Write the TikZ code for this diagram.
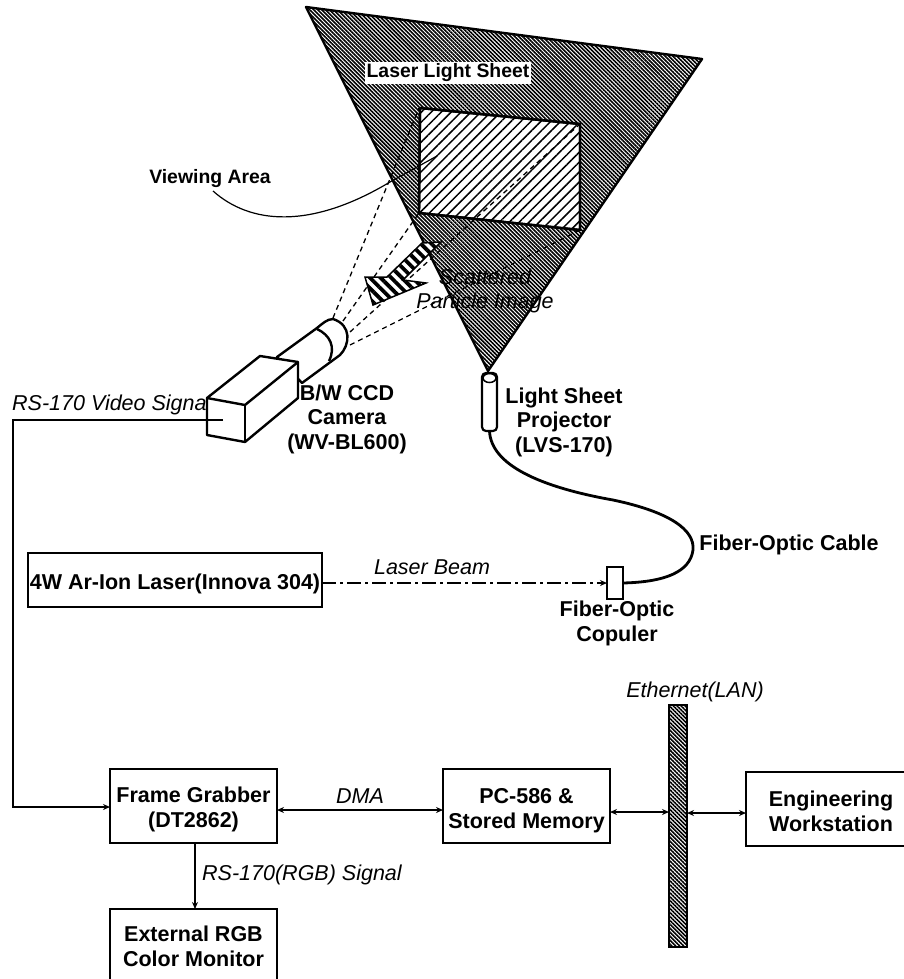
\documentclass[tikz,border=0pt]{standalone}
\usepackage{fontspec}
\setmainfont{Liberation Sans}
\usetikzlibrary{positioning, arrows.meta, patterns.meta}
\begin{document}
\begin{tikzpicture}[
  x=1pt, y=-1pt,
  node distance=66pt and 166pt,
  box/.style={rectangle, draw=black, line width=2.4pt, fill=white, minimum width=167pt,
    minimum height=74pt, align=center, font=\fontsize{21.5}{25}\selectfont\bfseries,
    inner sep=0pt, outer sep=0pt},
  lbl/.style={align=center, font=\fontsize{21.5}{24.5}\selectfont\bfseries, inner sep=0pt},
  smalllbl/.style={font=\fontsize{19.4}{24}\selectfont\bfseries, inner sep=0pt},
  sig/.style={font=\fontsize{21.5}{25}\selectfont\itshape, inner sep=0pt},
  arr/.style={-{Stealth[length=7pt,width=6pt]}, line width=1.2pt},
  dblarr/.style={{Stealth[length=7pt,width=6pt]}-{Stealth[length=7pt,width=6pt]}, line width=1.6pt},
  sight/.style={dash pattern=on 5pt off 4pt, line width=1.3pt},
  heavy/.style={line width=2.4pt, line join=round},
  finehatch/.style={pattern={Lines[angle=-45, distance=2.8pt, line width=1.6pt]}}
]
  \useasboundingbox (0,0) rectangle (904,979);

  % light sheet and viewing area
  \coordinate (sheetA) at (306,7);
  \coordinate (sheetB) at (702,59);
  \coordinate (sheetC) at (488,371);
  \draw[heavy, finehatch] (sheetA) -- (sheetB) -- (sheetC) -- cycle;
  \draw[heavy, fill=white] (420,108) -- (580,124) -- (580,230) -- (419,213) -- cycle;
  \draw[heavy, pattern={Lines[angle=45, distance=7pt, line width=1.5pt]}]
    (420,108) -- (580,124) -- (580,230) -- (419,213) -- cycle;
  \node[smalllbl, fill=white, inner sep=2pt] (sheet) at (448,73) {Laser Light Sheet};

  % lines of sight
  \coordinate (lensA) at (333,318);
  \coordinate (lensB) at (343,321);
  \coordinate (lensC) at (350,332);
  \coordinate (lensD) at (350,345);
  \draw[sight] (lensA) -- (419,108);
  \draw[sight] (lensB) -- (419,213);
  \draw[sight] (lensC) -- (580,124);
  \draw[sight] (lensD) -- (580,230);

  % hatched arrow
  \fill[white] (422,243) -- (441,242) -- (403,280) -- (426,283) -- (373,305) -- (365,277) -- (387,277) -- cycle;
  \draw[line width=1.5pt, pattern={Lines[angle=-45, distance=7.5pt, line width=3.8pt]}]
    (422,243) -- (441,242) -- (403,280) -- (426,283) -- (373,305) -- (365,277) -- (387,277) -- cycle;

  \node[sig] (scatA) at (485,277) {Scattered};
  \node[sig] (scatB) at (485,303) {Particle Image};

  \node[smalllbl] (viewing) at (210,179) {Viewing Area};
  \coordinate (viewEnd) at (437,156);
  \draw[line width=1.2pt] (213,191) .. controls (250,224) and (310,230) .. (390,182) -- (viewEnd);

  % camera
  \node[sig, anchor=west] (video) at (12,405) {RS-170 Video Signal};
  \draw[heavy, fill=white] (302,383) -- (340,355) .. controls (350,345) and (352,325) .. (333,319)
    .. controls (327,319) and (322,324) .. (317,328) -- (277,357) -- cycle;
  \draw[heavy] (317,329) .. controls (330,335) and (336,347) .. (329,361);
  \draw[heavy, fill=white] (207,398) -- (260,356) -- (298,362) -- (298,398) -- (245,442) -- (207,435) -- cycle;
  \draw[heavy] (207,398) -- (245,405) -- (298,362);
  \draw[heavy] (245,405) -- (245,442);
  \coordinate (camPort) at (223,420);
  \node[lbl] (camera) at (347,419) {B/W CCD\\Camera\\(WV-BL600)};

  % projector and fiber
  \node[rectangle, rounded corners=4pt, draw=black, line width=2.2pt, fill=white, minimum width=15pt,
    minimum height=58pt, inner sep=0pt, outer sep=0pt] (projector) at (489.5,402) {};
  \draw[line width=1.5pt] (489.5,378) ellipse (6.5pt and 4.5pt);
  \node[lbl] (projlabel) at (564,422) {Light Sheet\\Projector\\(LVS-170)};
  \node[rectangle, draw=black, line width=2.2pt, fill=white, minimum width=16pt, minimum height=32pt,
    inner sep=0pt, outer sep=0pt] (coupler) at (615,583) {};
  \node[lbl] (couplabel) at (617,623.5) {Fiber-Optic\\Copuler};
  \draw[line width=2.8pt] (projector.south) .. controls (491,465) and (540,487) .. (613,500)
    .. controls (670,512) and (695,530) .. (693,550) .. controls (690,572) and (665,582) .. (coupler.east);
  \node[lbl] (cablelabel) at (789,545) {Fiber-Optic Cable};

  % laser
  \node[box, minimum width=294pt, minimum height=54pt, text height=20pt, text depth=2pt] (laser) at (175,580) {4W Ar-Ion Laser(Innova 304)};
  \coordinate (beamStart) at (laser.east |- coupler);
  \draw[arr, line width=1.8pt, dash pattern=on 14pt off 4pt on 3pt off 4pt] (beamStart) -- (coupler);
  \node[sig] (beam) at (432,567) {Laser Beam};

  % processing chain
  \node[box, text height=46.5pt] (grabber) at (193.5,806) {Frame Grabber\\(DT2862)};
  \node[box, text height=49.5pt, right=of grabber] (pc) {PC-586 \&\\Stored Memory};
  \node[box, below=of grabber] (monitor) {External RGB\\Color Monitor};
  \node[rectangle, draw=black, line width=2.4pt, minimum width=18pt, minimum height=242pt, inner sep=0pt,
    outer sep=0pt, finehatch] (bar) at (678,826) {};
  \node[box, text height=44.5pt, minimum width=170pt, anchor=west] (station) at (746,809) {Engineering\\Workstation};

  \draw[arr] (camPort) -- (13,420) -- (13,807) -- (grabber.west |- 0,807);
  \draw[dblarr] (grabber.east |- 0,810) -- (pc.west |- 0,810);
  \draw[dblarr] (pc.east |- 0,812) -- (bar.west |- 0,812);
  \draw[dblarr] (bar.east |- 0,813) -- (station.west |- 0,813);
  \draw[arr] (195,843) -- (195,909);

  \node[sig] (dma) at (360,796) {DMA};
  \node[sig, anchor=west] (rgb) at (202,875) {RS-170(RGB) Signal};
  \node[sig] (lan) at (695,692) {Ethernet(LAN)};
\end{tikzpicture}
\end{document}
